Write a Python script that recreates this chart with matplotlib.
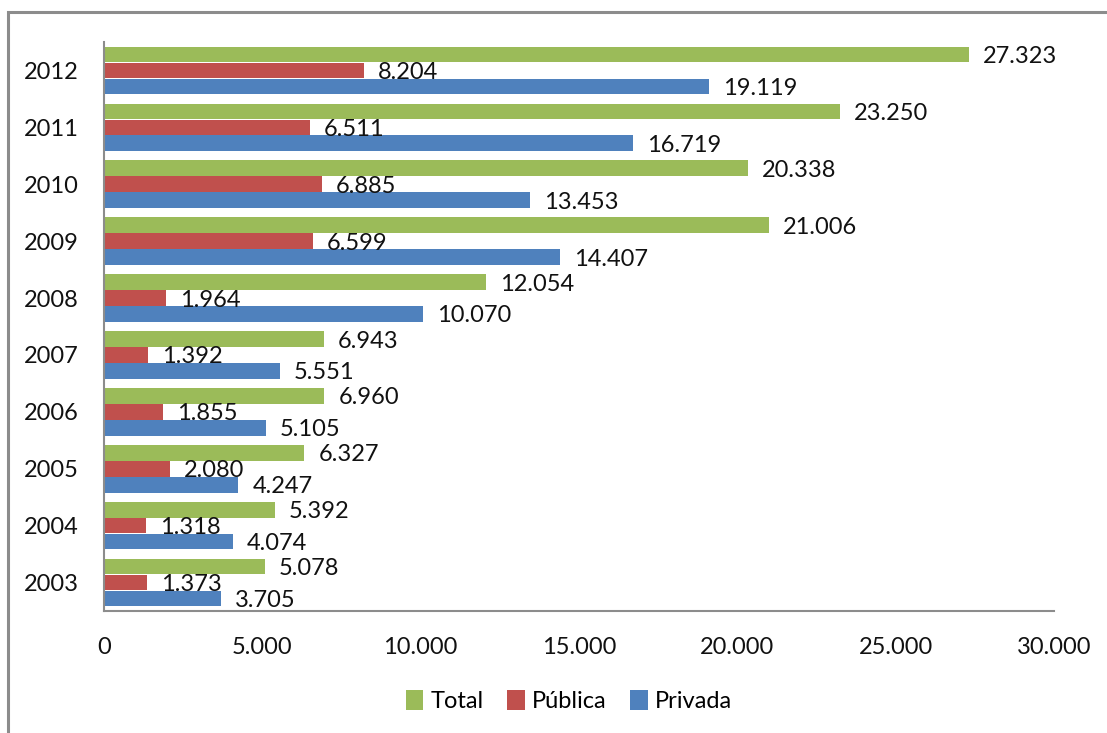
import matplotlib
matplotlib.use("Agg")
import matplotlib.pyplot as plt
from matplotlib.patches import Rectangle, Patch
from matplotlib.ticker import FuncFormatter
import numpy as np

plt.rcParams['font.family'] = ['Lato', 'DejaVu Sans']

years = ['2003', '2004', '2005', '2006', '2007', '2008', '2009', '2010', '2011', '2012']
total = [5078, 5392, 6327, 6960, 6943, 12054, 21006, 20338, 23250, 27323]
publica = [1373, 1318, 2080, 1855, 1392, 1964, 6599, 6885, 6511, 8204]
privada = [3705, 4074, 4247, 5105, 5551, 10070, 14407, 13453, 16719, 19119]
series_names = ['Total', 'Pública', 'Privada']
colors = ['#9BBB59', '#C0504D', '#4F81BD']

def fmt(v):
    return f"{int(v):,}".replace(",", ".")

W, H = 1107, 733
fig = plt.figure(figsize=(W / 100, H / 100), dpi=100)

# outer chart border
fig.patches.append(Rectangle((7.5 / W, -0.1), 1.2, (H - 12) / H + 0.1, transform=fig.transFigure,
                             fill=False, edgecolor='#8c8c8c', linewidth=2.2, zorder=0))

ax = fig.add_axes([104 / W, 122 / H, (1054 - 104) / W, (691 - 122) / H])

y = np.arange(len(years))
step = 0.28
bh = 0.275
data = [total, publica, privada]
offsets = [step, 0, -step]
FS = 17
for vals, off, c, name in zip(data, offsets, colors, series_names):
    ax.barh(y + off, vals, height=bh, color=c, label=name, zorder=2)
    for yi, v in zip(y, vals):
        ax.annotate(fmt(v), (v, yi + off), xytext=(14, -2), textcoords='offset pixels',
                    ha='left', va='center', fontsize=FS, color='#111111', zorder=3)

ax.set_xlim(0, 30000)
ax.set_ylim(-0.5, len(years) - 0.5)
ax.set_xticks(np.arange(0, 30001, 5000))
ax.xaxis.set_major_formatter(FuncFormatter(lambda v, p: fmt(v)))
ax.set_yticks(y)
ax.set_yticklabels(years)
ax.tick_params(axis='both', length=0, labelsize=FS, colors='#111111')
ax.tick_params(axis='x', pad=19)
ax.tick_params(axis='y', pad=18)
for s in ['top', 'right']:
    ax.spines[s].set_visible(False)
for s in ['left', 'bottom']:
    ax.spines[s].set_color('#8c8c8c')
    ax.spines[s].set_linewidth(1.5)

handles = [Patch(facecolor=c, label=n) for c, n in zip(colors, series_names)]
fig.legend(handles=handles, loc='center', bbox_to_anchor=(569 / W, 1 - 701 / H), ncol=3,
           frameon=False, fontsize=FS, handlelength=0.75, handleheight=0.9,
           handletextpad=0.3, columnspacing=1.0)

fig.savefig('out.png', dpi=100, facecolor='white')
